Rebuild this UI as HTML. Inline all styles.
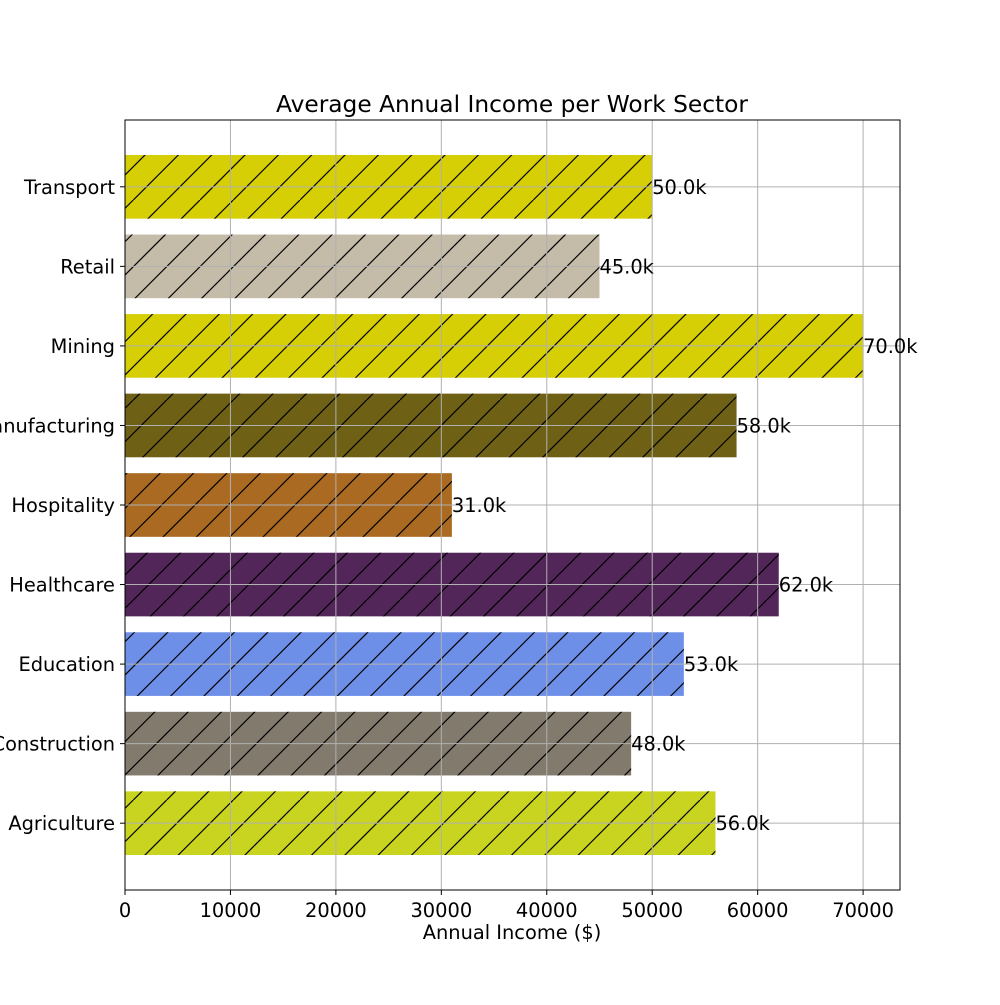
<!DOCTYPE html>
<html><head><meta charset="utf-8"><style>
body{margin:0;background:#fff;}
svg text{font-family:"DejaVu Sans","Liberation Sans",sans-serif;fill:#000;}
</style></head><body>
<svg id="chart" width="1000" height="1000" viewBox="0 0 1000 1000" xmlns="http://www.w3.org/2000/svg">
<defs>
<pattern id="hatch" patternUnits="userSpaceOnUse" x="0" y="0" width="100" height="100">
<g stroke="#000" stroke-width="1.2">
<line x1="0" y1="0" x2="-100" y2="100"/><line x1="100" y1="0" x2="0" y2="100"/>
<line x1="33.3" y1="0" x2="-66.7" y2="100"/><line x1="133.3" y1="0" x2="33.3" y2="100"/>
<line x1="66.7" y1="0" x2="-33.3" y2="100"/><line x1="166.7" y1="0" x2="66.7" y2="100"/>
</g>
</pattern>
</defs>
<g id="bars"></g>
<g id="grid"></g>
<g id="axes"></g>
<text x="512" y="112" font-size="23.3" text-anchor="middle">Average Annual Income per Work Sector</text>
<text x="512" y="939" font-size="19.4" text-anchor="middle">Annual Income ($)</text>
</svg>
<script>
const categories=["Agriculture","Construction","Education","Healthcare","Hospitality","Manufacturing","Mining","Retail","Transport"];
const values=[56000,48000,53000,62000,31000,58000,70000,45000,50000];
const colors=["#c8d420","#827b6d","#6e8fe8","#532659","#aa6a22","#6e6014","#d6cf06","#c4bba9","#d6cf06"];
const xTicks=[0,10000,20000,30000,40000,50000,60000,70000];
const L=125,R=900,T=120,B=890;
const xMax=73500;
const X=v=>L+v/xMax*(R-L);
const yMin=-0.84,yMax=8.84;
const Y=i=>B-(i-yMin)/(yMax-yMin)*(B-T);
const bw=(B-T)/(yMax-yMin)*0.8;
const FS=19.4;
const NS="http://www.w3.org/2000/svg";
function mk(tag,attrs,parent,txt){const e=document.createElementNS(NS,tag);for(const k in attrs)e.setAttribute(k,attrs[k]);if(txt!==undefined)e.textContent=txt;parent.appendChild(e);return e;}
const bars=document.getElementById('bars'),grid=document.getElementById('grid'),axes=document.getElementById('axes');
categories.forEach((c,i)=>{
  const y=Y(i);
  const r=mk('rect',{x:X(0),y:y-bw/2,width:X(values[i])-X(0),height:bw,fill:colors[i]},bars);
  
  
  const h=mk('rect',{x:X(0),y:y-bw/2,width:X(values[i])-X(0),height:bw,fill:'url(#hatch)'},bars);
  
  
  const g=mk('line',{x1:L,x2:R,y1:y,y2:y,stroke:'#b0b0b0','stroke-width':1},grid);
  
  
  const tk=mk('line',{x1:L-5,x2:L,y1:y,y2:y,stroke:'#000','stroke-width':1},axes);
  
  
  const lb=mk('text',{x:L-10,y:y+7,'font-size':FS,'text-anchor':'end'},axes,c);
  
  
  const vl=mk('text',{x:X(values[i]),y:y+7,'font-size':FS},axes,(values[i]/1000).toFixed(1)+'k');
  
  
});
xTicks.forEach(t=>{
  const x=X(t);
  const g=mk('line',{x1:x,x2:x,y1:T,y2:B,stroke:'#b0b0b0','stroke-width':1},grid);
  
  
  const tk=mk('line',{x1:x,x2:x,y1:B,y2:B+5,stroke:'#000','stroke-width':1},axes);
  
  
  const lb=mk('text',{x:x,y:B+27,'font-size':FS,'text-anchor':'middle'},axes,String(t));
  
  
});
const fr=mk('rect',{x:L,y:T,width:R-L,height:B-T,fill:'none',stroke:'#000','stroke-width':1},axes);


</script>
</body></html>
